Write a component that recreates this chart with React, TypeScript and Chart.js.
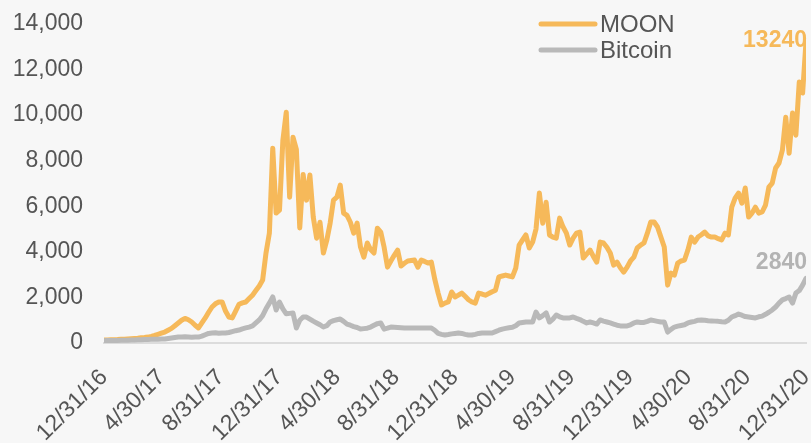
import React, { useEffect, useRef } from "react";
import { Chart, registerables } from "chart.js";

Chart.register(...registerables);

const seriesNames = ["MOON", "Bitcoin"];
const seriesColors = ["#F6B95A", "#B9B9B9"];
const endLabelColors = ["#F6B95A", "#B3B3B3"];

const tickLabels = [
  "12/31/16", "4/30/17", "8/31/17", "12/31/17", "4/30/18", "8/31/18", "12/31/18",
  "4/30/19", "8/31/19", "12/31/19", "4/30/20", "8/31/20", "12/31/20",
];

const yTicks = [0, 2000, 4000, 6000, 8000, 10000, 12000, 14000];

// weekly readings, 12/31/16 .. 12/31/20
const moonValues = [
  130, 135, 140, 145, 150, 160, 170, 180, 190, 200, 210, 230, 240, 260, 290, 330, 380, 430, 480, 560,
  640, 760, 880, 1000, 1080, 1020, 920, 780, 660, 880, 1100, 1350, 1580, 1720, 1800, 1800, 1400, 1140, 1100, 1400,
  1700, 1760, 1800, 1950, 2100, 2300, 2500, 2760, 3950, 4820, 8550, 5700, 5830, 8900, 10130, 6400, 9030, 8500, 5050, 7400,
  6270, 7370, 5530, 4600, 5300, 3950, 4500, 5260, 6270, 6400, 6930, 5700, 5600, 5300, 4820, 5260, 4210, 3770, 4390, 4100,
  3950, 5040, 4870, 4200, 3330, 3600, 3850, 4080, 3380, 3500, 3600, 3620, 3640, 3330, 3640, 3580, 3510, 3550, 2800, 2190,
  1670, 1750, 1800, 2240, 2020, 2100, 2190, 2050, 1900, 1800, 1750, 2190, 2150, 2100, 2170, 2250, 2320, 2900, 2940, 2980,
  2940, 2900, 3290, 4300, 4520, 4740, 4170, 4430, 5000, 6580, 5260, 6180, 4740, 4650, 4600, 5480, 5100, 4820, 4300, 4600,
  4820, 4870, 3730, 3900, 4080, 3800, 3550, 4430, 4390, 4200, 3950, 3420, 3550, 3300, 3110, 3330, 3600, 3770, 4170, 4300,
  4390, 4820, 5310, 5310, 5090, 4650, 4210, 2540, 3070, 2980, 3510, 3600, 3640, 4080, 4650, 4430, 4650, 4750, 4870, 4700,
  4650, 4650, 4580, 4520, 4820, 4740, 5960, 6360, 6580, 6140, 6800, 5530, 5700, 5960, 5700, 5750, 6050, 6840, 7020, 7680,
  7900, 8460, 9910, 8330, 10090, 9120, 11450, 10970, 13240,
];

const bitcoinValues = [
  100, 105, 110, 112, 115, 118, 120, 125, 130, 135, 140, 145, 150, 155, 160, 165, 170, 175, 180, 200,
  220, 240, 260, 260, 270, 260, 250, 260, 260, 300, 360, 420, 440, 450, 430, 440, 440, 460, 500, 540,
  570, 620, 660, 700, 750, 880, 1010, 1200, 1500, 1750, 2020, 1450, 1800, 1500, 1280, 1300, 1320, 660, 1000, 1140,
  1140, 1050, 960, 880, 800, 700, 760, 920, 980, 1020, 1050, 950, 830, 780, 720, 680, 610, 630, 650, 700,
  780, 850, 880, 610, 650, 700, 690, 680, 670, 660, 660, 660, 660, 660, 660, 660, 660, 660, 560, 420,
  380, 350, 370, 400, 420, 440, 420, 380, 350, 350, 380, 420, 440, 440, 440, 440, 500, 560, 610, 640,
  670, 690, 760, 880, 900, 920, 920, 920, 1360, 1100, 1200, 1320, 920, 1050, 1230, 1150, 1100, 1100, 1100, 1140,
  1080, 1030, 950, 880, 920, 880, 830, 1010, 960, 920, 880, 830, 780, 750, 750, 750, 800, 880, 920, 900,
  900, 950, 1010, 980, 950, 920, 920, 480, 600, 700, 740, 770, 800, 880, 920, 950, 1000, 1010, 1000, 980,
  970, 960, 950, 930, 920, 1000, 1140, 1200, 1270, 1220, 1160, 1140, 1120, 1100, 1150, 1180, 1260, 1350, 1450, 1580,
  1750, 1890, 1950, 2020, 1750, 2190, 2300, 2540, 2840,
];

const FONT = "'Liberation Sans', Arial, Helvetica, sans-serif";
const TEXT_COLOR = "#555555";
const BG = "#f7f7f7";

const DAY = 86400000;
function parseDate(s: string) {
  const [m, d, y] = s.split("/").map(Number);
  return Date.UTC(2000 + y, m - 1, d);
}
const t0 = parseDate(tickLabels[0]);
const tickDays = tickLabels.map((l) => Math.round((parseDate(l) - t0) / DAY));
const spanDays = tickDays[tickDays.length - 1];
const toPoints = (vals: number[]) =>
  vals.map((v, i) => ({ x: (i * spanDays) / (vals.length - 1), y: v }));

const bgPlugin = {
  id: "bg",
  beforeDraw(chart: any) {
    const { ctx, width, height } = chart;
    ctx.save();
    ctx.fillStyle = BG;
    ctx.fillRect(0, 0, width, height);
    ctx.restore();
  },
};

const legendPlugin = {
  id: "customLegend",
  afterDraw(chart: any) {
    const { ctx, chartArea } = chart;
    const x1 = chartArea.left + 437;
    const x2 = chartArea.left + 491;
    const tx = chartArea.left + 496;
    const rows = [chartArea.top + 0, chartArea.top + 26];
    ctx.save();
    seriesNames.forEach((name, i) => {
      const y = rows[i];
      ctx.strokeStyle = seriesColors[i];
      ctx.lineWidth = 5;
      ctx.lineCap = "round";
      ctx.beginPath();
      ctx.moveTo(x1, y);
      ctx.lineTo(x2, y);
      ctx.stroke();
      ctx.fillStyle = TEXT_COLOR;
      ctx.font = `24px ${FONT}`;
      ctx.textAlign = "left";
      ctx.textBaseline = "middle";
      ctx.fillText(name, tx, y + 1);
    });
    ctx.restore();
  },
};

const endLabelPlugin = {
  id: "endLabels",
  afterDatasetsDraw(chart: any) {
    const { ctx, chartArea } = chart;
    ctx.save();
    ctx.font = `bold 23px ${FONT}`;
    ctx.textAlign = "right";
    ctx.textBaseline = "middle";
    chart.data.datasets.forEach((ds: any, i: number) => {
      const meta = chart.getDatasetMeta(i);
      const last = meta.data[meta.data.length - 1];
      const val = ds.data[ds.data.length - 1].y;
      const y = Math.max(last.y - 16, chartArea.top + 17);
      ctx.fillStyle = endLabelColors[i];
      ctx.fillText(String(val), last.x + 1, y);
    });
    ctx.restore();
  },
};

export default function App() {
  const ref = useRef<HTMLCanvasElement | null>(null);

  useEffect(() => {
    document.body.style.margin = "0";
    document.body.style.background = BG;
    const canvas = ref.current;
    if (!canvas) return;
    const chart = new Chart(canvas, {
      type: "line",
      data: {
        datasets: [
          {
            label: seriesNames[0],
            data: toPoints(moonValues),
            borderColor: seriesColors[0],
            borderWidth: 5,
            pointRadius: 0,
            tension: 0,
            borderCapStyle: "round",
            borderJoinStyle: "round",
            order: 2,
          },
          {
            label: seriesNames[1],
            data: toPoints(bitcoinValues),
            borderColor: seriesColors[1],
            borderWidth: 5,
            pointRadius: 0,
            tension: 0,
            borderCapStyle: "round",
            borderJoinStyle: "round",
            order: 1,
          },
        ],
      },
      options: {
        animation: false,
        responsive: false,
        maintainAspectRatio: false,
        layout: { padding: { top: 24, right: 5, left: 0, bottom: 0 } },
        plugins: {
          legend: { display: false },
          tooltip: { enabled: false },
        },
        scales: {
          x: {
            type: "linear",
            min: 0,
            max: spanDays,
            grid: { display: false, drawTicks: false },
            border: { display: true, color: "#dcdcdc", width: 2 },
            afterBuildTicks: (scale: any) => {
              scale.ticks = tickDays.map((v) => ({ value: v }));
            },
            afterFit: (scale: any) => {
              scale.height = 100;
              scale.paddingLeft = 0;
              scale.paddingRight = 0;
              scale.paddingTop = 0;
              scale.paddingBottom = 0;
            },
            ticks: {
              autoSkip: false,
              minRotation: 45,
              maxRotation: 45,
              padding: 21,
              color: TEXT_COLOR,
              font: { family: FONT, size: 23 },
              callback: (v: any) => {
                const idx = tickDays.findIndex((d) => Math.abs(d - Number(v)) < 0.5);
                return idx >= 0 ? tickLabels[idx] : "";
              },
            },
          },
          y: {
            min: yTicks[0],
            max: yTicks[yTicks.length - 1],
            grid: { display: false, drawTicks: false },
            border: { display: false },
            afterBuildTicks: (scale: any) => {
              scale.ticks = yTicks.map((v) => ({ value: v }));
            },
            afterFit: (scale: any) => {
              scale.width = 104;
              scale.paddingLeft = 0;
              scale.paddingRight = 0;
              scale.paddingTop = 0;
              scale.paddingBottom = 0;
            },
            ticks: {
              padding: 21,
              color: TEXT_COLOR,
              font: { family: FONT, size: 23 },
              callback: (v: any) => Number(v).toLocaleString("en-US"),
            },
          },
        },
      },
      plugins: [bgPlugin, endLabelPlugin, legendPlugin],
    } as any);
    return () => chart.destroy();
  }, []);

  return (
    <div style={{ width: 811, height: 443, background: BG }}>
      <canvas ref={ref} width={811} height={443} style={{ display: "block", width: 811, height: 443 }} />
    </div>
  );
}
